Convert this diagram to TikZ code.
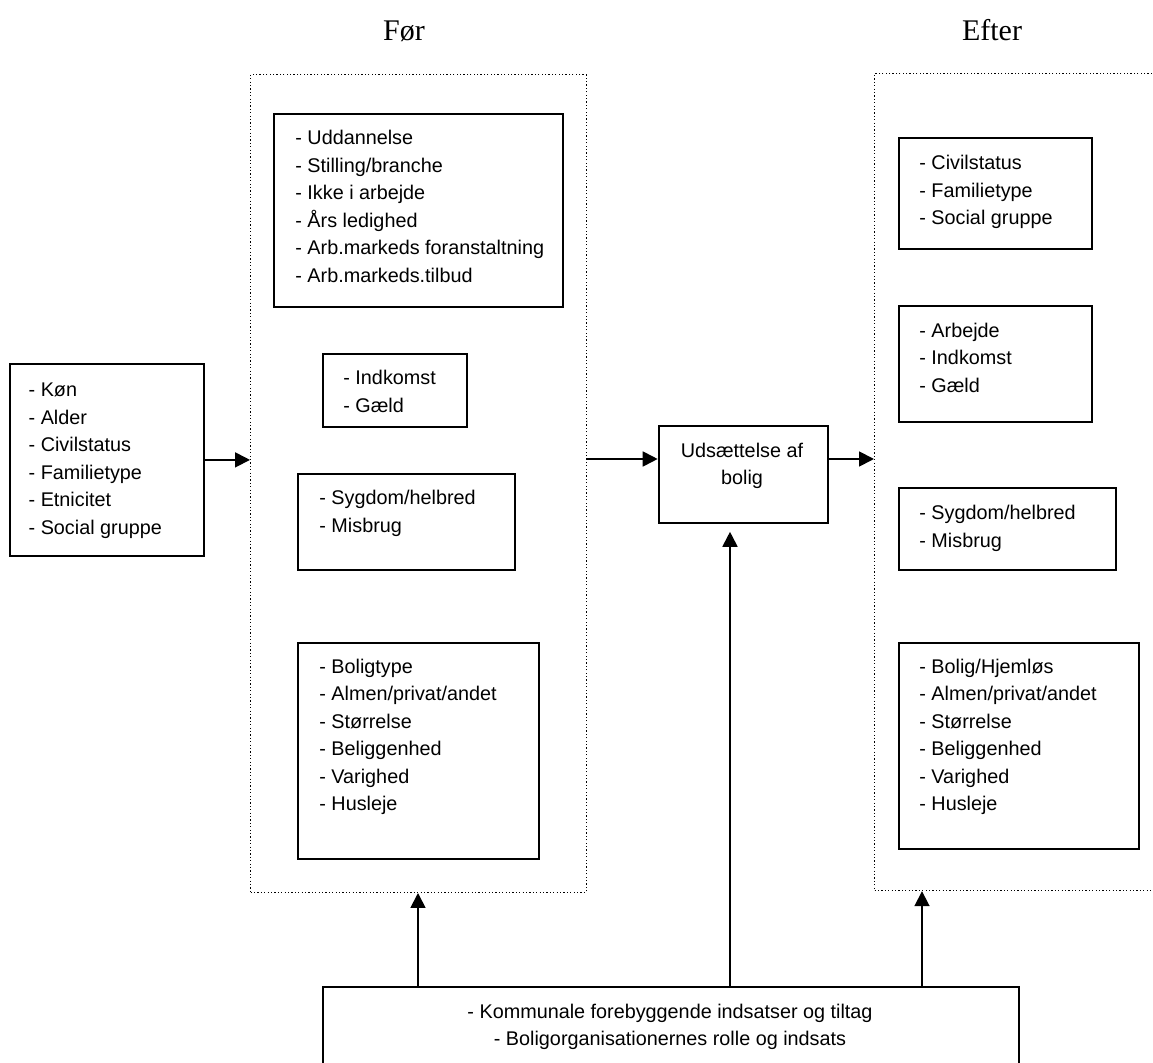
\documentclass[tikz,border=0pt]{standalone}
\usepackage{fontspec}
\setmainfont{Liberation Sans}
\newfontfamily\titlefont{Liberation Serif}
\usetikzlibrary{arrows.meta}
\tikzset{
  box/.style={draw, line width=1pt, anchor=north west, inner sep=0pt},
  frame/.style={draw, dash pattern=on 0.6pt off 1.1pt, line width=0.6pt, anchor=north west, inner sep=0pt},
  item/.style={anchor=base west, align=left, inner sep=0pt, font=\fontsize{9.9pt}{13.75pt}\selectfont},
  mid/.style={anchor=base, align=center, inner sep=0pt, font=\fontsize{9.9pt}{13.75pt}\selectfont},
  head/.style={anchor=base, inner sep=0pt, font=\titlefont\fontsize{15pt}{18pt}\selectfont},
  arr/.style={-{Triangle[length=7.5pt,width=7.5pt]}, line width=0.9pt}
}
\begin{document}
\begin{tikzpicture}[x=0.5pt,y=-0.5pt]
\clip (0,0) rectangle (1153,1063);
% titles
\node[head] (foer) at (404,41) {Før};
\node[head] (efter) at (992,41) {Efter};
% dotted frames
\node[frame, minimum width=167.8pt, minimum height=408.9pt] (before) at (250,74) {};
\node[frame, minimum width=200pt, minimum height=408.5pt] (after) at (874,73) {};
% background box (text placed by its last baseline)
\node[box, minimum width=96.7pt, minimum height=96.2pt] (koen) at (9.3,362.7) {};
\node[item] (koen-t) at (28.3,534.2) {- Køn\\- Alder\\- Civilstatus\\- Familietype\\- Etnicitet\\- Social gruppe};
% before
\node[box, minimum width=144.5pt, minimum height=96.5pt] (arbejde) at (273,113) {};
\node[item] (arbejde-t) at (295,282.5) {- Uddannelse\\- Stilling/branche\\- Ikke i arbejde\\- Års ledighed\\- Arb.markeds foranstaltning\\- Arb.markeds.tilbud};
\node[box, minimum width=72.2pt, minimum height=36.5pt] (oekonomi) at (321.7,353) {};
\node[item] (oekonomi-t) at (343,412.5) {- Indkomst\\- Gæld};
\node[box, minimum width=108.4pt, minimum height=48pt] (helbred) at (297.3,473.3) {};
\node[item] (helbred-t) at (319,532.5) {- Sygdom/helbred\\- Misbrug};
\node[box, minimum width=120.2pt, minimum height=108pt] (bolig) at (297.3,641.7) {};
\node[item] (bolig-t) at (319,810.8) {- Boligtype\\- Almen/privat/andet\\- Størrelse\\- Beliggenhed\\- Varighed\\- Husleje};
% eviction
\node[box, minimum width=84.5pt, minimum height=48.4pt] (udsaet) at (657.7,425) {};
\node[mid] (udsaet-t) at (742,485) {Udsættelse af\\bolig};
% after
\node[box, minimum width=96.5pt, minimum height=55.8pt] (civil2) at (897.7,136.7) {};
\node[item] (civil2-t) at (919,225) {- Civilstatus\\- Familietype\\- Social gruppe};
\node[box, minimum width=96.5pt, minimum height=57.9pt] (arbejde2) at (897.7,305) {};
\node[item] (arbejde2-t) at (919,392.3) {- Arbejde\\- Indkomst\\- Gæld};
\node[box, minimum width=108.7pt, minimum height=41pt] (helbred2) at (897.7,487.3) {};
\node[item] (helbred2-t) at (919,547.5) {- Sygdom/helbred\\- Misbrug};
\node[box, minimum width=120.3pt, minimum height=103.3pt] (bolig2) at (897.7,641.7) {};
\node[item] (bolig2-t) at (919,810.8) {- Bolig/Hjemløs\\- Almen/privat/andet\\- Størrelse\\- Beliggenhed\\- Varighed\\- Husleje};
% measures
\node[box, minimum width=348.1pt, minimum height=50pt] (tiltag) at (321.8,985.7) {};
\node[mid] (tiltag-t) at (670,1046) {- Kommunale forebyggende indsatser og tiltag\\- Boligorganisationernes rolle og indsats};
% arrows
\coordinate (flow) at (0,459);
\draw[arr] (koen.east) -- (koen.east -| before.west);
\draw[arr] (flow -| before.east) -- (flow -| udsaet.west);
\draw[arr] (flow -| udsaet.east) -- (flow -| after.west);
\draw[arr] (tiltag.north -| 418,0) -- (before.south -| 418,0);
\draw[arr, shorten >=4pt] (tiltag.north -| 730,0) -- (udsaet.south -| 730,0);
\draw[arr] (tiltag.north -| 922,0) -- (after.south -| 922,0);
\end{tikzpicture}
\end{document}
